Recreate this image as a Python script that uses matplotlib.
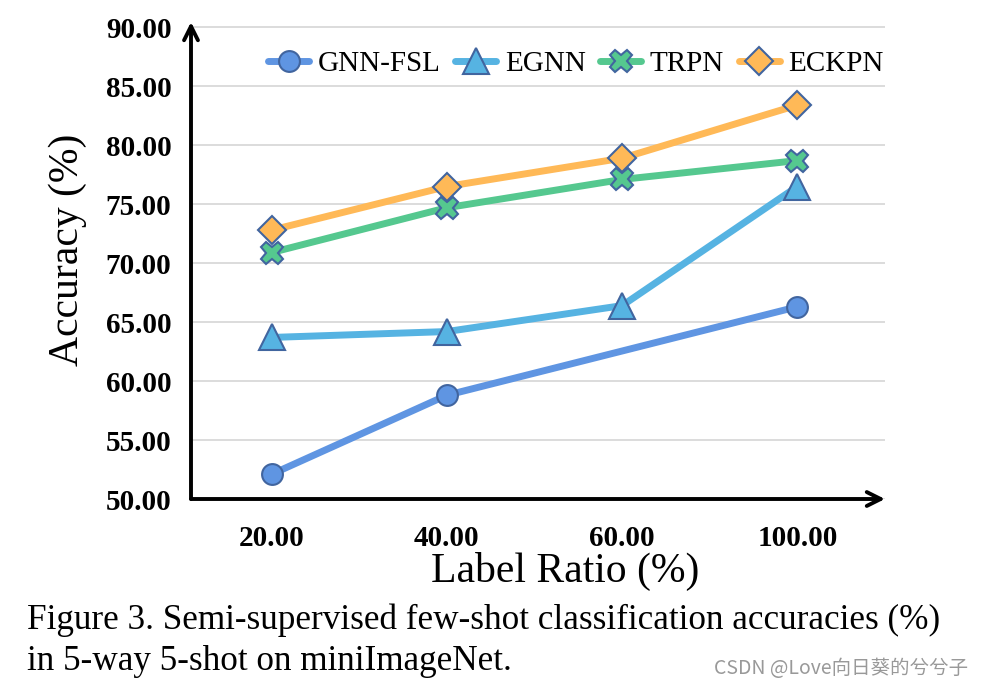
import numpy as np
import matplotlib.pyplot as plt

# values
ratios = ["20.00", "40.00", "60.00", "100.00"]
gnn_fsl = [52.1, 58.8, np.nan, 66.3]
egnn = [63.7, 64.2, 66.4, 76.5]
trpn = [70.9, 74.7, 77.1, 78.7]
eckpn = [72.8, 76.5, 78.9, 83.4]
yticks = [50, 55, 60, 65, 70, 75, 80, 85, 90]

plt.rcParams["font.family"] = ["Liberation Serif", "DejaVu Serif"]

edge = "#41659F"
series = [
    ("GNN-FSL", gnn_fsl, "#5F95E2", "o", 15),
    ("EGNN", egnn, "#56B3E2", "^", 19),
    ("TRPN", trpn, "#55C88F", "X", 16),
    ("ECKPN", eckpn, "#FFB957", "D", 14),
]

fig = plt.figure(figsize=(9.82, 6.9), dpi=100)
ax = fig.add_axes([191 / 982, 1 - 499 / 690, (885 - 191) / 982, (499 - 22) / 690])

x = np.arange(len(ratios))
for name, vals, color, marker, ms in series:
    vals = np.array(vals, dtype=float)
    ok = ~np.isnan(vals)
    ax.plot(x[ok], vals[ok], color=color, lw=5, marker=marker, markersize=ms,
            markerfacecolor=color, markeredgecolor=edge, markeredgewidth=1.5,
            label=name, zorder=3, solid_capstyle="round")

ax.set_xlim(-0.46, 3.5)
ax.set_ylim(50, 90.45)
ax.set_xticks(x)
ax.set_xticklabels(ratios, fontsize=21, fontweight="bold")
ax.set_yticks(yticks)
ax.set_yticklabels([f"{v:.2f}" for v in yticks], fontsize=21, fontweight="bold")
ax.tick_params(length=0)
ax.tick_params(axis="y", pad=14)
ax.tick_params(axis="x", pad=19)
ax.yaxis.grid(True, color="#D9D9D9", lw=1.3)
ax.set_axisbelow(True)
for s in ["top", "right", "left", "bottom"]:
    ax.spines[s].set_visible(False)

# axis lines with arrow heads
ax.annotate("", xy=(1.0, 0), xytext=(0, 0), xycoords="axes fraction",
            arrowprops=dict(arrowstyle="->", lw=2.8, color="black",
                            mutation_scale=25, shrinkA=0, shrinkB=0))
ax.annotate("", xy=(0, 1.0), xytext=(0, 0), xycoords="axes fraction",
            arrowprops=dict(arrowstyle="->", lw=2.8, color="black",
                            mutation_scale=25, shrinkA=0, shrinkB=0))

ax.set_xlabel("Label Ratio (%)", fontsize=30, va="center")
ax.xaxis.set_label_coords(0.539, -0.153)
ax.set_ylabel("Accuracy (%)", fontsize=30, va="center")
ax.yaxis.set_label_coords(-0.177, 0.522)

ax.legend(loc="upper right", bbox_to_anchor=(1.015, 0.965), ncol=4, frameon=False,
          fontsize=21, handlelength=1.4, handletextpad=0.3, columnspacing=0.5,
          borderaxespad=0)

fig.text(27 / 982, 1 - 620 / 690, "Figure 3. Semi-supervised few-shot classification accuracies (%)",
         fontsize=25.3, va="center", ha="left")
fig.text(27 / 982, 1 - 662 / 690, "in 5-way 5-shot on miniImageNet.",
         fontsize=25.3, va="center", ha="left")
fig.text(968 / 982, 1 - 669 / 690, "CSDN @Love向日葵的兮兮子", fontsize=14,
         color="#999999", ha="right", va="center",
         family=["Noto Sans CJK SC", "DejaVu Sans"])

fig.savefig("out.png", dpi=100)
